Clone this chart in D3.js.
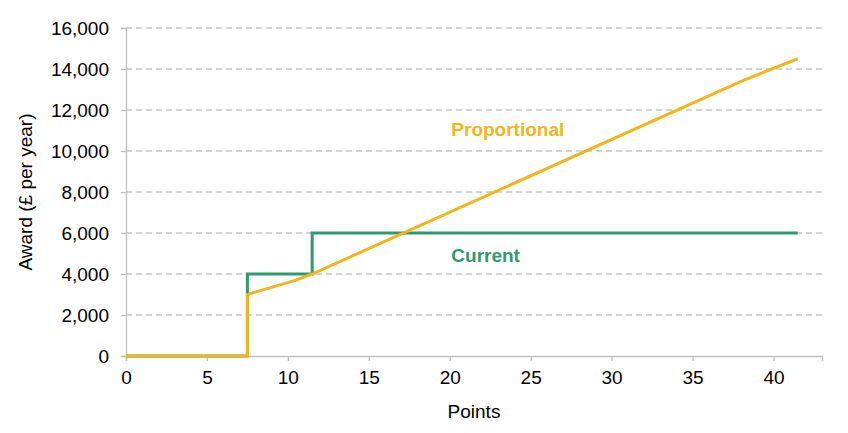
<!DOCTYPE html>
<html>
<head>
<meta charset="utf-8">
<script src="https://cdn.jsdelivr.net/npm/d3@7"></script>
<style>
  body { margin: 0; background: #fff; }
  text { font-family: "Liberation Sans", Arial, sans-serif; }
</style>
</head>
<body>
<div id="chart"></div>
<script>
// points on the x axis, award in £ per year
const currentPoints = [0, 7.5, 7.5, 11.5, 11.5, 41.5];
const currentAward = [0, 0, 4000, 4000, 6000, 6000];

const proportionalPoints = [0, 7.5, 7.5, 10.5, 11.5, 38, 41.5];
const proportionalAward = [0, 0, 3000, 3700, 4000, 13400, 14500];

const xTicks = [0, 5, 10, 15, 20, 25, 30, 35, 40];
const yTicks = [0, 2000, 4000, 6000, 8000, 10000, 12000, 14000, 16000];

const width = 848;
const height = 433;
const margin = { top: 28, right: 26, bottom: 77, left: 126 };

const orange = "#F2B51D";
const green = "#2E9A70";

const x = d3.scaleLinear()
    .domain([0, 43])
    .range([margin.left, width - margin.right]);

const y = d3.scaleLinear()
    .domain([0, 16000])
    .range([height - margin.bottom, margin.top]);

const svg = d3.select("#chart")
    .append("svg")
    .attr("width", width)
    .attr("height", height);

// gridlines
svg.append("g")
    .selectAll("line")
    .data(yTicks.filter(d => d > 0))
    .enter()
    .append("line")
    .attr("x1", x(0))
    .attr("x2", x(43))
    .attr("y1", d => y(d))
    .attr("y2", d => y(d))
    .attr("stroke", "#c6c6c6")
    .attr("stroke-width", 1.3)
    .attr("stroke-dasharray", "6,4");

// y axis
const yAxis = svg.append("g")
    .attr("transform", `translate(${x(0)},0)`)
    .call(d3.axisLeft(y).tickValues(yTicks).tickFormat(d3.format(",")).tickSize(5).tickPadding(12));

// x axis
const xAxis = svg.append("g")
    .attr("transform", `translate(0,${y(0)})`)
    .call(d3.axisBottom(x).tickValues(xTicks).tickSize(5).tickPadding(10));

[yAxis, xAxis].forEach(a => {
    a.select(".domain").attr("stroke", "#bfbfbf").attr("stroke-width", 1.3);
    a.selectAll(".tick line").attr("stroke", "#bfbfbf").attr("stroke-width", 1.3);
    a.selectAll(".tick text")
        .style("font-size", "19px")
        .style("font-family", "Liberation Sans, Arial, sans-serif")
        .attr("fill", "#000");
});

const line = d3.line()
    .x(d => x(d[0]))
    .y(d => y(d[1]));

svg.append("path")
    .datum(currentPoints.map((p, i) => [p, currentAward[i]]))
    .attr("d", line)
    .attr("fill", "none")
    .attr("stroke", green)
    .attr("stroke-width", 3);

svg.append("path")
    .datum(proportionalPoints.map((p, i) => [p, proportionalAward[i]]))
    .attr("d", line)
    .attr("fill", "none")
    .attr("stroke", orange)
    .attr("stroke-width", 3);

// series labels
svg.append("text")
    .attr("x", x(20.1))
    .attr("y", y(11080))
    .attr("dy", "0.35em")
    .text("Proportional")
    .style("font-size", "19px")
    .style("font-weight", "bold")
    .style("fill", orange);

svg.append("text")
    .attr("x", x(20.1))
    .attr("y", y(4920))
    .attr("dy", "0.35em")
    .text("Current")
    .style("font-size", "19px")
    .style("font-weight", "bold")
    .style("fill", green);

// axis titles
svg.append("text")
    .attr("x", (x(0) + x(43)) / 2)
    .attr("y", 418)
    .attr("text-anchor", "middle")
    .text("Points")
    .style("font-size", "19px");

svg.append("text")
    .attr("transform", `translate(32,${(y(0) + y(16000)) / 2}) rotate(-90)`)
    .attr("text-anchor", "middle")
    .text("Award (£ per year)")
    .style("font-size", "19px");
</script>
</body>
</html>
